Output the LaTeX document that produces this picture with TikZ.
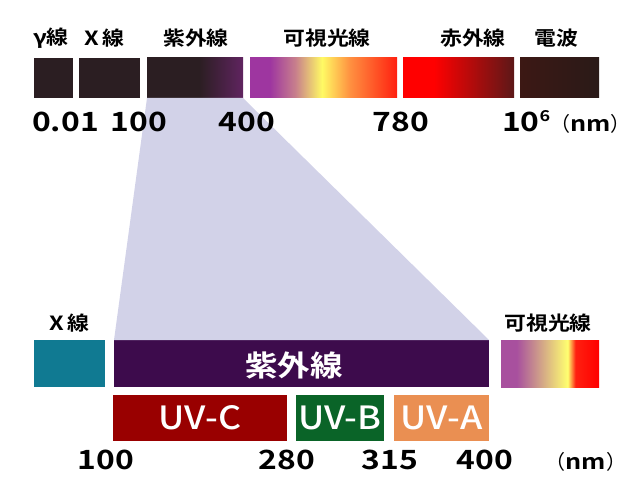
\documentclass[tikz,border=0pt]{standalone}
\usepackage{fontspec}
\newfontfamily\jpb[FakeStretch=1.12]{Noto Sans CJK JP Bold}
\newfontfamily\jpr{Noto Sans CJK JP}
\newfontfamily\numf[FakeStretch=1.2]{Noto Sans CJK JP Bold}
\newfontfamily\uvf[FakeStretch=1.12]{Noto Sans CJK JP Medium}
\definecolor{dk}{RGB}{43,30,34}
\definecolor{uvend}{RGB}{96,36,96}
\definecolor{vpur}{RGB}{158,54,160}
\definecolor{vmau}{RGB}{200,128,140}
\definecolor{vyel}{RGB}{255,250,100}
\definecolor{vora}{RGB}{255,144,64}
\definecolor{vred}{RGB}{255,32,16}
\definecolor{irred}{RGB}{255,0,0}
\definecolor{irend}{RGB}{92,24,24}
\definecolor{rdA}{RGB}{60,24,20}
\definecolor{rdB}{RGB}{42,26,24}
\definecolor{lpur}{RGB}{168,80,158}
\definecolor{lyel}{RGB}{255,255,112}
\definecolor{lred}{RGB}{255,0,0}
\definecolor{lav}{RGB}{210,210,232}
\definecolor{teal}{RGB}{16,122,146}
\definecolor{uvpur}{RGB}{61,11,76}
\definecolor{uvc}{RGB}{153,0,0}
\definecolor{uvb}{RGB}{10,100,40}
\definecolor{uva}{RGB}{234,143,82}
\pgfdeclarehorizontalshading{uvTop}{100bp}{color(0bp)=(dk); color(25bp)=(dk); color(52bp)=(dk); color(75bp)=(uvend); color(100bp)=(uvend)}
\pgfdeclarehorizontalshading{visTop}{100bp}{color(0bp)=(vpur); color(25bp)=(vpur); color(31.8bp)=(vpur); color(40.5bp)=(vmau); color(49.5bp)=(vyel); color(59bp)=(vora); color(75bp)=(vred); color(100bp)=(vred)}
\pgfdeclarehorizontalshading{irTop}{100bp}{color(0bp)=(irred); color(25bp)=(irred); color(39bp)=(irred); color(75bp)=(irend); color(100bp)=(irend)}
\pgfdeclarehorizontalshading{rdTop}{100bp}{color(0bp)=(rdA); color(25bp)=(rdA); color(75bp)=(rdB); color(100bp)=(rdB)}
\pgfdeclarehorizontalshading{visLow}{100bp}{color(0bp)=(lpur); color(25bp)=(lpur); color(33bp)=(lpur); color(59bp)=(lyel); color(63bp)=(vred); color(75bp)=(lred); color(100bp)=(lred)}
\newcommand\nmtext{{\jpr\fontsize{20}{20}\selectfont （}{\fontsize{21}{21}\selectfont nm}{\jpr\fontsize{20}{20}\selectfont ）}}
\tikzset{
  bx/.style={inner sep=0, outer sep=0, anchor=north west},
  toplab/.style={inner sep=0, font=\jpb\fontsize{19.5}{19.5}\selectfont},
  num/.style={inner sep=0, font=\numf\fontsize{26.5}{26.5}\selectfont},
  uvlab/.style={inner sep=0, text=white, font=\uvf\fontsize{32}{32}\selectfont},
}
\begin{document}
\begin{tikzpicture}[x=1pt,y=-1pt]
\useasboundingbox (0,0) rectangle (640,500);
% top bars
\node (g)  [bx, fill=dk, minimum width=39, minimum height=40] at (34,58) {};
\node (xr) [bx, fill=dk, minimum width=61, minimum height=40] at (79,58) {};
\node (uvT)[bx, shading=uvTop, minimum width=96, minimum height=40] at (147,58) {};
\node (vT) [bx, shading=visTop, minimum width=147, minimum height=40] at (250,58) {};
\node (ir) [bx, shading=irTop, minimum width=111, minimum height=40] at (403,58) {};
\node (rd) [bx, shading=rdTop, minimum width=79, minimum height=40] at (520,58) {};
% lower boxes
\node (xB) [bx, fill=teal, minimum width=71, minimum height=47] at (34,340) {};
\node (uvB)[bx, fill=uvpur, minimum width=375, minimum height=47] at (114,340) {};
\node (vB) [bx, shading=visLow, minimum width=98, minimum height=47] at (501,340) {};
\node (c)  [bx, fill=uvc, minimum width=174, minimum height=46] at (113,395) {};
\node (b)  [bx, fill=uvb, minimum width=88, minimum height=46] at (296,395) {};
\node (a)  [bx, fill=uva, minimum width=95, minimum height=46] at (394,395) {};
% zoom region
\fill[lav] (uvT.south west) -- (uvT.south east) -- (uvB.north east) -- (uvB.north west) -- cycle;
% top labels
\node (lg) [toplab] at (51,38) {{\numf γ}線};
\node (lx) [toplab] at (104,38) {{\numf X}\,線};
\node (lu) [toplab] at (196,38) {紫外線};
\node (lv) [toplab] at (327,38) {可視光線};
\node (li) [toplab] at (473,38) {赤外線};
\node (lr) [toplab] at (556,38) {電波};
% top numbers
\node (n1) [num] at (65.5,122) {0.01};
\node (n2) [num] at (139,122) {100};
\node (n3) [num] at (247,122) {400};
\node (n4) [num] at (401,122) {780};
\node (n5) [num, anchor=west] at (502,122) {10\raisebox{10pt}{\fontsize{15}{15}\selectfont 6}\nmtext};
% lower labels
\node (lxb) [toplab] at (69,323) {{\numf X}\,線};
\node (lvb) [toplab] at (548,323) {可視光線};
\node (luv) [inner sep=0, text=white, font=\jpb\fontsize{29}{29}\selectfont] at (294,365) {紫外線};
\node (tc) [uvlab] at (c) {UV-C};
\node (tb) [uvlab] at (b) {UV-B};
\node (ta) [uvlab] at (a) {UV-A};
% bottom numbers
\node (m1) [num] at (106,460) {100};
\node (m2) [num] at (287,460) {280};
\node (m3) [num] at (390,460) {315};
\node (m4) [num] at (485,460) {400};
\node (m5) [num] at (586,462) {\nmtext};
\end{tikzpicture}
\end{document}
